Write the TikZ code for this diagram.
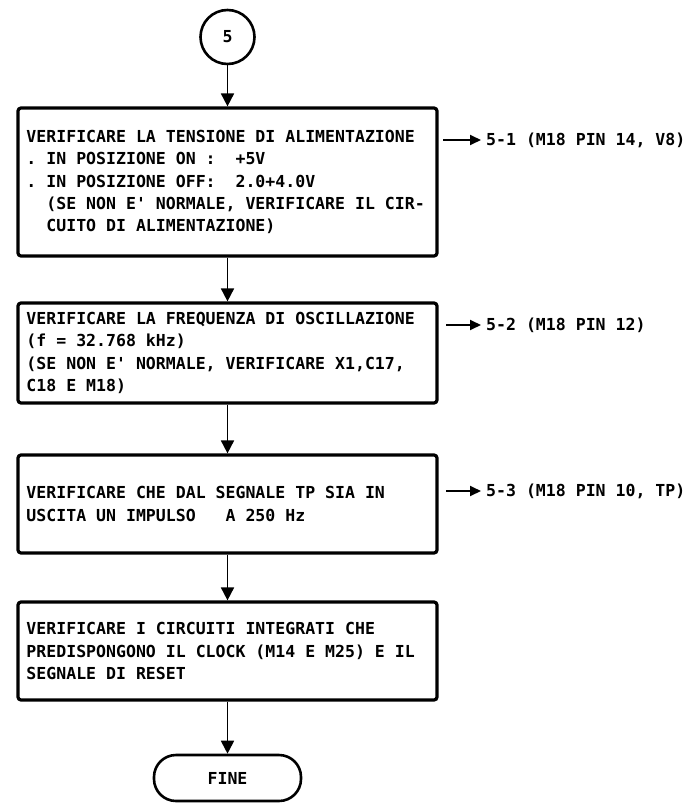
\documentclass[tikz,border=0pt]{standalone}
\usepackage{fontspec}
\setmainfont{DejaVu Sans Mono}
\usetikzlibrary{arrows.meta}

\begin{document}
\begin{tikzpicture}[
    x=1bp, y=1bp,         % one unit = one pixel of the scan
    >={Triangle[length=13bp, width=13bp]},
    every node/.style = {font=\bfseries\fontsize{16.6}{22.5}\selectfont},
    connector/.style = {
        circle, draw, line width=2.6bp,
        minimum size=54bp, inner sep=0pt
    },
    checkbox/.style = {
        rectangle, rounded corners=3bp, draw, line width=3.2bp,
        text width=402bp, inner xsep=8.5bp, align=flush left,
        execute at begin node={\spaceskip=0pt\xspaceskip=0pt\frenchspacing}
    },
    terminal/.style = {
        rectangle, rounded corners=22bp, draw, line width=2.6bp,
        minimum width=147bp, minimum height=46bp
    },
    reflabel/.style = {anchor=west, inner sep=0pt},
    arrow/.style = {line width=1.8bp, ->},
    sidearrow/.style = {line width=1.8bp, shorten >=5bp,
        -{Triangle[length=11bp, width=10bp]}}
]
\useasboundingbox (0,0) rectangle (695,-803);

% --- Flow of checks (absolute positions, px) ---
\node[connector] (start) at (227.5,-37) {5};

\node[checkbox, minimum height=148bp] (supply) at (227.5,-182)
    {VERIFICARE LA TENSIONE DI ALIMENTAZIONE\\
     . IN POSIZIONE ON :~~+5V\\
     . IN POSIZIONE OFF:~~2.0+4.0V\\
     ~~(SE NON E\textquotesingle{} NORMALE, VERIFICARE IL CIR-\\
     ~~CUITO DI ALIMENTAZIONE)};

\node[checkbox, minimum height=100bp] (osc) at (227.5,-353)
    {VERIFICARE LA FREQUENZA DI OSCILLAZIONE\\
     (f = 32.768 kHz)\\
     (SE NON E\textquotesingle{} NORMALE, VERIFICARE X1,C17,\\
     C18 E M18)};

\node[checkbox, minimum height=98bp] (pulse) at (227.5,-504)
    {VERIFICARE CHE DAL SEGNALE TP SIA IN\\
     USCITA UN IMPULSO~~~A 250 Hz};

\node[checkbox, minimum height=98bp] (ics) at (227.5,-651)
    {VERIFICARE I CIRCUITI INTEGRATI CHE\\
     PREDISPONGONO IL CLOCK (M14 E M25) E IL\\
     SEGNALE DI RESET};

\node[terminal] (fine) at (227.5,-778) {FINE};

% --- Test point references ---
\node[reflabel] (ref1) at (486,-140) {5-1 (M18 PIN 14, V8)};
\node[reflabel] (ref2) at (486,-325) {5-2 (M18 PIN 12)};
\node[reflabel] (ref3) at (486,-491) {5-3 (M18 PIN 10, TP)};

\coordinate (s1) at (443,-140);
\coordinate (s2) at (446,-325);
\coordinate (s3) at (446,-491);

% --- Arrows ---
\draw[arrow] (start) -- (supply);
\draw[arrow] (supply) -- (osc);
\draw[arrow] (osc) -- (pulse);
\draw[arrow] (pulse) -- (ics);
\draw[arrow] (ics) -- (fine);

\draw[sidearrow] (s1) -- (ref1.west);
\draw[sidearrow] (s2) -- (ref2.west);
\draw[sidearrow] (s3) -- (ref3.west);

\end{tikzpicture}
\end{document}
